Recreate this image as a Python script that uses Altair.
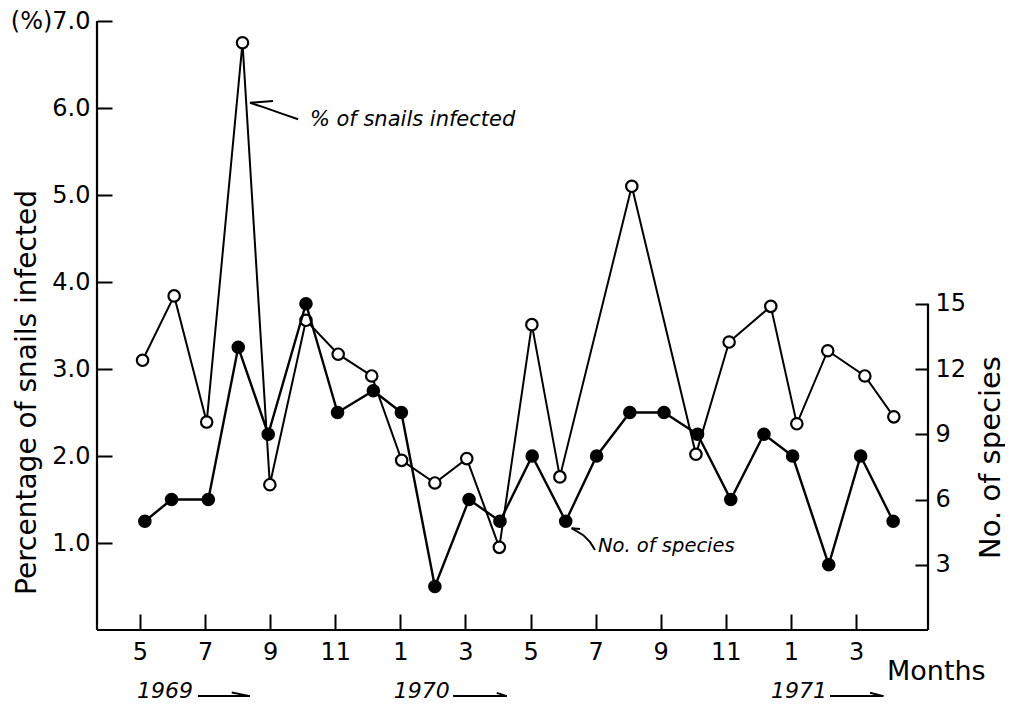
import altair as alt
import pandas as pd

# ---------------- data (month index 0 = May 1969) ----------------
# % of snails infected (open circles)
pct_month = [0.08, 1.05, 2.05, 3.15, 3.99, 5.10, 6.09, 7.12, 8.04, 9.06, 10.04,
             11.04, 12.04, 12.90, 15.11, 17.08, 18.10, 19.38, 20.18, 21.13, 22.27, 23.16]
pct_value = [3.10, 3.84, 2.39, 6.75, 1.67, 3.56, 3.17, 2.92, 1.95, 1.69, 1.97,
             0.95, 3.51, 1.76, 5.10, 2.02, 3.31, 3.72, 2.37, 3.21, 2.92, 2.45]

# No. of species (closed circles)
sp_month = [0.15, 0.97, 2.10, 3.02, 3.94, 5.10, 6.07, 7.17, 8.03, 9.06, 10.11, 11.06,
            12.05, 13.08, 14.03, 15.05, 16.10, 17.13, 18.15, 19.17, 20.05, 21.16, 22.14, 23.14]
sp_value = [5, 6, 6, 13, 9, 15, 10, 11, 10, 2, 6, 5,
            8, 5, 8, 10, 10, 9, 6, 9, 8, 3, 8, 5]

# axis ticks / labels
tick_months = [0, 2, 4, 6, 8, 10, 12, 14, 16, 18, 20, 22]
tick_labels = ["5", "7", "9", "11", "1", "3", "5", "7", "9", "11", "1", "3"]
pct_ticks = [1, 2, 3, 4, 5, 6, 7]
sp_ticks = [3, 6, 9, 12, 15]

# year labels under the axis (month index where each label ends)
year_labels = ["1969", "1970", "1971"]
year_month_end = [1.63, 9.52, 21.11]

# ---------------- annotation geometry (data units: month, %) ----------------
arrow_paths = {
    "snail_shaft": [(3.38, 6.06), (3.79, 6.01), (4.40, 5.93), (4.86, 5.87)],
    "snail_barb": [(3.38, 6.06), (4.09, 6.08)],
    "species_shaft": [(13.26, 1.17), (13.62, 1.09), (13.83, 1.01), (13.98, 0.92)],
    "species_barb": [(13.26, 1.17), (13.52, 1.16)],
    "y69_shaft": [(1.78, -0.76), (3.38, -0.76)],
    "y69_barb": [(2.82, -0.718), (3.38, -0.76)],
    "y70_shaft": [(9.62, -0.76), (11.27, -0.76)],
    "y70_barb": [(10.96, -0.723), (11.27, -0.76)],
    "y71_shaft": [(21.20, -0.76), (22.84, -0.76)],
    "y71_barb": [(22.43, -0.722), (22.84, -0.76)],
}

W, H = 831, 609
FONT = "DejaVu Sans"

pct_df = pd.DataFrame({"m": pct_month, "p": pct_value})
sp_df = pd.DataFrame({"m": sp_month, "s": sp_value})

rows = []
for name, pts in arrow_paths.items():
    for i, (mm, pp) in enumerate(pts):
        rows.append({"path": name, "o": i, "m": mm, "p": pp})
arrow_df = pd.DataFrame(rows)

year_df = pd.DataFrame({"m": year_month_end, "p": [-0.785] * 3, "t": year_labels})
snail_lbl = pd.DataFrame({"m": [5.22], "p": [5.79], "t": ["% of snails infected"]})
sp_lbl = pd.DataFrame({"m": [14.07], "p": [0.90], "t": ["No. of species"]})
months_lbl = pd.DataFrame({"m": [22.95], "p": [-0.575], "t": ["Months"]})

label_expr_x = "[" + ",".join(f"'{t}'" for t in tick_labels) + "][round(datum.value / 2)]"

x_enc = alt.X(
    "m:Q",
    scale=alt.Scale(domain=[-1.32, 24.21], nice=False, zero=False),
    axis=alt.Axis(orient="bottom", values=tick_months, labelExpr=label_expr_x,
                  offset=-16, tickSize=16, tickWidth=2, tickColor="black",
                  domain=False, grid=False, labelPadding=10, labelFont=FONT,
                  labelFontSize=24, labelColor="black", labelFlush=False,
                  labelOverlap=False, title=None),
)

y_pct = alt.Y(
    "p:Q",
    scale=alt.Scale(domain=[0, 7], nice=False, zero=True),
    axis=alt.Axis(orient="left", values=pct_ticks,
                  labelExpr="datum.value == 7 ? '(%)7.0' : format(datum.value, '.1f')",
                  offset=-15, tickSize=15, tickWidth=2, tickColor="black",
                  domain=False, grid=False, labelPadding=7, labelFont=FONT,
                  labelFontSize=24, labelColor="black", labelFlush=False,
                  labelOverlap=False, title="Percentage of snails infected",
                  titleFont=FONT, titleFontSize=28, titleFontWeight="normal",
                  titleColor="black", titleAngle=270, titleX=-85, titleY=371,
                  titleAlign="center", titleBaseline="middle"),
)

y_sp = alt.Y(
    "s:Q",
    scale=alt.Scale(domain=[0, 28], nice=False, zero=True),
    axis=alt.Axis(orient="right", values=sp_ticks, format="d",
                  offset=-13, tickSize=13, tickWidth=2, tickColor="black",
                  domain=False, grid=False, labelPadding=7, labelFont=FONT,
                  labelFontSize=24, labelColor="black", labelFlush=False,
                  labelOverlap=False, title="No. of species",
                  titleFont=FONT, titleFontSize=29, titleFontWeight="normal",
                  titleColor="black", titleAngle=270, titleX=75, titleY=436,
                  titleAlign="center", titleBaseline="middle"),
)

one = pd.DataFrame({"a": [0]})

pct_line = alt.Chart(pct_df).mark_line(color="black", strokeWidth=2.0).encode(x=x_enc, y=y_pct)
pct_pts = alt.Chart(pct_df).mark_circle(fill="white", stroke="black", strokeWidth=2.2,
                                        size=130, opacity=1).encode(x=x_enc, y=y_pct)
arrows = alt.Chart(arrow_df).mark_line(color="black", strokeWidth=2).encode(
    x=x_enc, y=y_pct, detail="path:N", order="o:Q")
txt_snail = alt.Chart(snail_lbl).mark_text(font=FONT, fontStyle="italic", fontSize=21,
                                           align="left", baseline="alphabetic",
                                           color="black").encode(x=x_enc, y=y_pct, text="t:N")
txt_sp = alt.Chart(sp_lbl).mark_text(font=FONT, fontStyle="italic", fontSize=19.5,
                                     align="left", baseline="alphabetic",
                                     color="black").encode(x=x_enc, y=y_pct, text="t:N")
txt_years = alt.Chart(year_df).mark_text(font=FONT, fontStyle="italic", fontSize=22,
                                         align="right", baseline="alphabetic",
                                         color="black").encode(x=x_enc, y=y_pct, text="t:N")
txt_months = alt.Chart(months_lbl).mark_text(font=FONT, fontSize=27, align="left",
                                             baseline="alphabetic",
                                             color="black").encode(x=x_enc, y=y_pct, text="t:N")
left_dom = alt.Chart(one).mark_rule(color="black", strokeWidth=2.2).encode(
    x=alt.value(0), y=alt.value(0), y2=alt.value(H))
bottom_dom = alt.Chart(one).mark_rule(color="black", strokeWidth=2.2).encode(
    y=alt.value(H), x=alt.value(0), x2=alt.value(W))

pct_group = alt.layer(pct_line, arrows, pct_pts, txt_snail, txt_sp, txt_years,
                      txt_months, left_dom, bottom_dom)

sp_line = alt.Chart(sp_df).mark_line(color="black", strokeWidth=2.4).encode(x=x_enc, y=y_sp)
sp_pts = alt.Chart(sp_df).mark_circle(color="black", size=185, opacity=1).encode(x=x_enc, y=y_sp)
right_dom = alt.Chart(pd.DataFrame({"s": [15]})).mark_rule(color="black", strokeWidth=2.2).encode(
    x=alt.value(W), y=y_sp, y2=alt.value(H))

sp_group = alt.layer(sp_line, sp_pts, right_dom)

chart = (
    alt.layer(pct_group, sp_group)
    .resolve_scale(y="independent")
    .properties(width=W, height=H,
                padding={"left": 89, "top": 13, "right": 77, "bottom": 73},
                autosize=alt.AutoSizeParams(type="none"))
    .configure_view(stroke=None)
)

chart.save("out.html", embed_options={"renderer": "svg", "actions": False})
